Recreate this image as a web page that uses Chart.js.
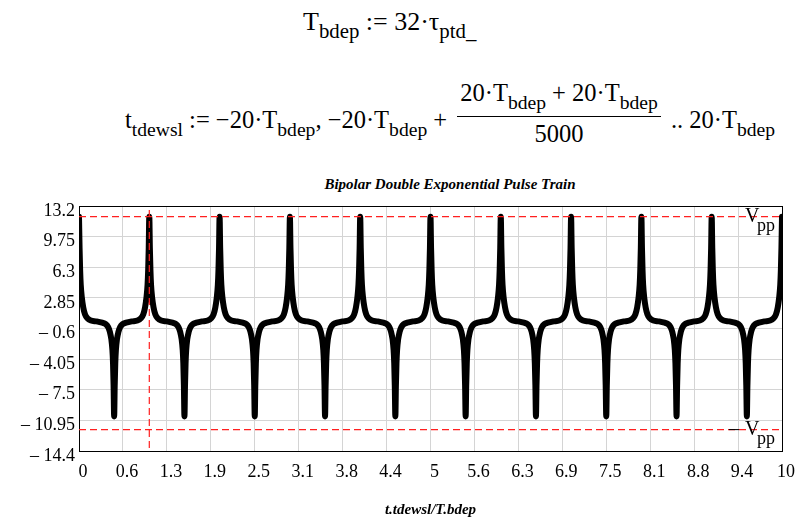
<!DOCTYPE html>
<html>
<head>
<meta charset="utf-8">
<script src="https://cdn.jsdelivr.net/npm/chart.js@4.4.1/dist/chart.umd.min.js"></script>
<style>
  body { margin: 0; width: 801px; height: 520px; background: #fff; position: relative; overflow: hidden; color: #000; }
  .eq { position: absolute; font-family: 'Liberation Serif', 'Times New Roman', serif; font-size: 24.5px; line-height: 25px; white-space: nowrap; }
  .eq sub { font-size: 0.8em; vertical-align: -0.4em; line-height: 0; }
  #eq1 { left: 303px; top: 9px; font-size: 26px; }
  #eq2 { left: 125px; top: 80px; }
  .frac { display: inline-block; vertical-align: -14px; text-align: center; margin: 0 4px; }
  .frac .num { display: block; border-bottom: 1.5px solid #000; padding: 0 3px 11px; }
  .frac .den { display: block; padding-top: 4px; }
  #title { position: absolute; top: 176px; left: 0; width: 900px; text-align: center; font: italic bold 15px 'Liberation Serif', serif; }
  #wrap { position: absolute; left: 0; top: 170px; width: 801px; height: 350px; }
</style>
</head>
<body>
<div class="eq" id="eq1">T<sub>bdep</sub> := 32·τ<sub>ptd_</sub></div>
<div class="eq" id="eq2">t<sub>tdewsl</sub> := −20·T<sub>bdep</sub>, −20·T<sub>bdep</sub> + <span class="frac"><span class="num">20·T<sub>bdep</sub> + 20·T<sub>bdep</sub></span><span class="den">5000</span></span> .. 20·T<sub>bdep</sub></div>
<div id="title">Bipolar Double Exponential Pulse Train</div>
<div id="wrap"><canvas id="pulseChart" width="801" height="350"></canvas></div>

<script>
// pulse positions (x = t/T) and the shape of one spike
const posCentres = [0, 1, 2, 3, 4, 5, 6, 7, 8, 9, 10];
const negCentres = [0.5, 1.5, 2.5, 3.5, 4.5, 5.5, 6.5, 7.5, 8.5, 9.5];
const spikeOffsets = [0, 0.008, 0.016, 0.025, 0.04, 0.06, 0.085, 0.12, 0.17, 0.25];
const posSpikeValues = [12, 8.5, 6.0, 4.3, 2.9, 1.8, 1.0, 0.55, 0.3, 0.2];
const negSpikeValues = [-10.5, -7, -4.5, -3, -1.8, -1.0, -0.45, -0.1, 0.05, 0.2];

const xTickValues = [0, 0.625, 1.25, 1.875, 2.5, 3.125, 3.75, 4.375, 5, 5.625, 6.25, 6.875, 7.5, 8.125, 8.75, 9.375, 10];
const xTickLabels = ['0', '0.6', '1.3', '1.9', '2.5', '3.1', '3.8', '4.4', '5', '5.6', '6.3', '6.9', '7.5', '8.1', '8.8', '9.4', '10'];
const yTickValues = [13.2, 9.75, 6.3, 2.85, -0.6, -4.05, -7.5, -10.95, -14.4];
const yTickLabels = ['13.2', '9.75', '6.3', '2.85', '– 0.6', '– 4.05', '– 7.5', '– 10.95', '– 14.4'];

const vppLevel = 12;
const markerX = 1;

// place the spike shape at every pulse centre
function pulsePoints() {
    const byX = new Map();
    const add = (centres, values) => centres.forEach(c => {
        spikeOffsets.forEach((d, i) => {
            [c - d, c + d].forEach(x => {
                if (x >= 0 && x <= 10) byX.set(x.toFixed(4), {x: x, y: values[i]});
            });
        });
    });
    add(posCentres, posSpikeValues);
    add(negCentres, negSpikeValues);
    return [...byX.values()].sort((a, b) => a.x - b.x);
}

const serif = "'Liberation Serif', serif";

// box, red dashed markers and the Vpp labels
const markers = {
    id: 'markers',
    beforeDatasetsDraw(chart) {
        const {ctx, chartArea: a} = chart;
        ctx.save();
        ctx.strokeStyle = '#000';
        ctx.lineWidth = 1;
        ctx.strokeRect(Math.round(a.left) + 0.5, Math.round(a.top) + 0.5, Math.round(a.width), Math.round(a.height));
        ctx.restore();
    },
    afterDatasetsDraw(chart) {
        const {ctx, chartArea: a, scales: {x, y}} = chart;
        ctx.save();
        ctx.strokeStyle = '#ff2020';
        ctx.lineWidth = 1.2;
        ctx.setLineDash([7, 4]);
        [vppLevel, -vppLevel].forEach(v => {
            const py = y.getPixelForValue(v);
            ctx.beginPath();
            ctx.moveTo(a.left, py);
            ctx.lineTo(a.right, py);
            ctx.stroke();
        });
        const px = x.getPixelForValue(markerX);
        ctx.beginPath();
        ctx.moveTo(px, a.top + 4);
        ctx.lineTo(px, a.bottom);
        ctx.stroke();
        ctx.setLineDash([]);

        ctx.fillStyle = '#000';
        ctx.textBaseline = 'alphabetic';
        const up = y.getPixelForValue(vppLevel);
        const lo = y.getPixelForValue(-vppLevel);
        ctx.font = '20px ' + serif;
        ctx.fillText('V', a.right - 37, up + 5);
        ctx.fillText('V', a.right - 37, lo + 5);
        ctx.fillText('–', a.right - 53, lo + 5);
        ctx.font = '18px ' + serif;
        ctx.fillText('pp', a.right - 25, up + 14);
        ctx.fillText('pp', a.right - 25, lo + 14);
        ctx.restore();
    }
};

const ctx = document.getElementById('pulseChart').getContext('2d');
new Chart(ctx, {
    type: 'line',
    data: {
        datasets: [{
            data: pulsePoints(),
            borderColor: '#000',
            borderWidth: 6,
            pointRadius: 0,
            tension: 0.4,
            cubicInterpolationMode: 'monotone',
            borderJoinStyle: 'round',
            borderCapStyle: 'round'
        }]
    },
    options: {
        responsive: false,
        animation: false,
        layout: {padding: {left: 0, right: 18, top: 36, bottom: 0}},
        plugins: {legend: {display: false}, tooltip: {enabled: false}},
        scales: {
            x: {
                type: 'linear',
                min: 0,
                max: 10,
                afterBuildTicks: s => { s.ticks = xTickValues.map(v => ({value: v})); },
                afterFit: s => { s.height = 69; },
                ticks: {
                    autoSkip: false,
                    maxRotation: 0,
                    padding: 10,
                    labelOffset: 4,
                    color: '#000',
                    font: {family: serif, size: 18},
                    callback: v => xTickLabels[xTickValues.indexOf(v)]
                },
                grid: {color: '#d4d4d4', drawTicks: false},
                border: {display: false},
                title: {
                    display: true,
                    text: 't.tdewsl/T.bdep',
                    color: '#000',
                    font: {family: serif, size: 15, style: 'italic', weight: 'bold'},
                    padding: {top: 0, bottom: 1}
                }
            },
            y: {
                min: -14.4,
                max: 13.2,
                afterBuildTicks: s => { s.ticks = yTickValues.map(v => ({value: v})); },
                afterFit: s => { s.width = 79; },
                ticks: {
                    autoSkip: false,
                    padding: 4,
                    labelOffset: 5,
                    color: '#000',
                    font: {family: serif, size: 18},
                    callback: v => yTickLabels[yTickValues.indexOf(v)]
                },
                grid: {color: '#d4d4d4', drawTicks: false},
                border: {display: false}
            }
        }
    },
    plugins: [markers]
});
</script>
</body>
</html>
